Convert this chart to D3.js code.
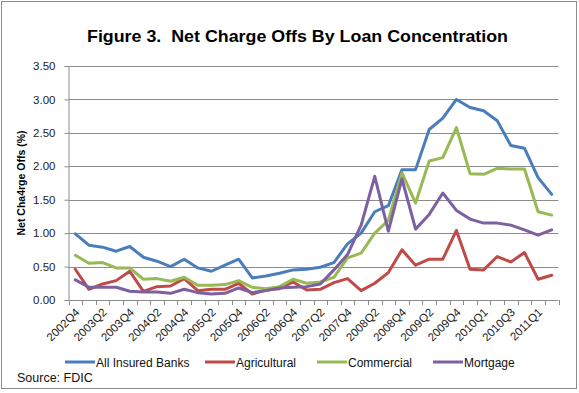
<!DOCTYPE html>
<html>
<head>
<meta charset="utf-8">
<script src="https://cdn.jsdelivr.net/npm/d3@7"></script>
<style>
  body { margin: 0; background: #fff; }
  svg { display: block; font-family: "Liberation Sans", Arial, sans-serif; }
</style>
</head>
<body>
<svg id="chart" width="579" height="393"></svg>
<script>
const quarters = ["2002Q4","2003Q1","2003Q2","2003Q3","2003Q4","2004Q1","2004Q2","2004Q3","2004Q4",
  "2005Q1","2005Q2","2005Q3","2005Q4","2006Q1","2006Q2","2006Q3","2006Q4","2007Q1","2007Q2","2007Q3",
  "2007Q4","2008Q1","2008Q2","2008Q3","2008Q4","2009Q1","2009Q2","2009Q3","2009Q4","2009Q4",
  "2010Q1","2010Q2","2010Q3","2010Q4","2011Q1","2011Q2"];
const allInsured = [0.99,0.82,0.79,0.73,0.80,0.64,0.58,0.50,0.61,0.48,0.43,0.52,0.61,0.33,0.36,0.40,0.45,0.46,
  0.49,0.56,0.84,1.00,1.32,1.41,1.95,1.95,2.55,2.72,3.00,2.88,2.83,2.68,2.31,2.27,1.83,1.58];
const agricultural = [0.46,0.16,0.24,0.29,0.43,0.13,0.20,0.21,0.32,0.14,0.16,0.16,0.25,0.09,0.15,0.17,0.27,0.15,
  0.16,0.26,0.32,0.14,0.25,0.41,0.75,0.52,0.61,0.61,1.04,0.46,0.45,0.65,0.57,0.71,0.31,0.37];
const commercial = [0.67,0.55,0.56,0.48,0.48,0.31,0.32,0.28,0.34,0.22,0.22,0.23,0.29,0.19,0.17,0.20,0.31,0.25,
  0.27,0.34,0.63,0.70,1.00,1.19,1.90,1.45,2.08,2.13,2.58,1.89,1.88,1.97,1.96,1.96,1.32,1.27];
const mortgage = [0.30,0.19,0.19,0.19,0.13,0.12,0.12,0.10,0.16,0.11,0.09,0.10,0.18,0.11,0.14,0.18,0.19,0.20,
  0.24,0.45,0.68,1.12,1.85,1.03,1.81,1.06,1.28,1.60,1.34,1.21,1.15,1.15,1.12,1.05,0.97,1.05];
const yTicks = [0, 0.5, 1.0, 1.5, 2.0, 2.5, 3.0, 3.5];
const seriesNames = ["All Insured Banks", "Agricultural", "Commercial", "Mortgage"];
const seriesColors = ["#4a7ebb", "#be4b48", "#98b954", "#7d60a0"];
const seriesValues = [allInsured, agricultural, commercial, mortgage];

const svg = d3.select("#chart");
const plotLeft = 68.5, plotRight = 558.5, plotTop = 66, plotBottom = 300;

// outer border
svg.append("rect").attr("x", 1.5).attr("y", 1.5).attr("width", 575).attr("height", 387)
  .attr("fill", "#fff").attr("stroke", "#8c8c8c").attr("stroke-width", 1);

// title
svg.append("text").attr("x", 297.5).attr("y", 41.5).attr("text-anchor", "middle")
  .style("white-space", "pre")
  .attr("font-size", 16.5).attr("font-weight", "bold").attr("fill", "#000")
  .attr("textLength", 421).attr("lengthAdjust", "spacingAndGlyphs")
  .text("Figure 3.  Net Charge Offs By Loan Concentration");

const idx = d3.range(quarters.length);
const x = d3.scaleBand().domain(idx).range([plotLeft, plotRight]).padding(0);
const y = d3.scaleLinear().domain([0, 3.5]).range([plotBottom, plotTop]);
const cx = i => x(i) + x.bandwidth() / 2;

// gridlines
svg.append("g").selectAll("line").data(yTicks.filter(d => d > 0)).join("line")
  .attr("x1", plotLeft).attr("x2", plotRight)
  .attr("y1", d => Math.round(y(d)) + 0.5).attr("y2", d => Math.round(y(d)) + 0.5)
  .attr("stroke", "#8c8c8c").attr("stroke-width", 1);

// y axis
const yAxis = svg.append("g").attr("transform", `translate(${plotLeft},0)`)
  .call(d3.axisLeft(y).tickValues(yTicks).tickFormat(d3.format(".2f")).tickSize(4).tickPadding(9));
yAxis.select(".domain").attr("stroke", "#8c8c8c");
yAxis.selectAll(".tick line").attr("stroke", "#8c8c8c");
yAxis.selectAll("text").attr("font-size", 11.5).attr("fill", "#222").attr("font-family", "Liberation Sans, Arial, sans-serif");

// y axis title
svg.append("text").attr("transform", `translate(25,${(plotTop + plotBottom) / 2}) rotate(-90)`)
  .attr("text-anchor", "middle").attr("font-size", 10.5).attr("font-weight", "bold")
  .text("Net Cha4rge Offs (%)");

// x axis line
svg.append("line").attr("x1", plotLeft).attr("x2", plotRight).attr("y1", plotBottom + 0.5).attr("y2", plotBottom + 0.5)
  .attr("stroke", "#8c8c8c");
// x ticks between categories
const boundaries = d3.range(quarters.length + 1).map(i => plotLeft + i * x.bandwidth());
svg.append("g").selectAll("line").data(boundaries).join("line")
  .attr("x1", d => Math.round(d) + 0.5).attr("x2", d => Math.round(d) + 0.5)
  .attr("y1", plotBottom).attr("y2", plotBottom + 5).attr("stroke", "#8c8c8c");
// x labels
svg.append("g").selectAll("text").data(idx.filter(i => i % 2 === 0)).join("text")
  .attr("transform", i => `translate(${cx(i) + 5},${plotBottom + 13}) rotate(-45)`)
  .attr("text-anchor", "end").attr("font-size", 11.5).attr("fill", "#222")
  .text(i => quarters[i]);

// lines
const line = d3.line().x((d, i) => cx(i)).y(d => y(d));
svg.append("g").selectAll("path").data(seriesValues).join("path")
  .attr("d", d => line(d)).attr("fill", "none")
  .attr("stroke", (d, i) => seriesColors[i]).attr("stroke-width", 3)
  .attr("stroke-linejoin", "round").attr("stroke-linecap", "round");

// legend
const legendX = [65, 205, 317, 433];
const lg = svg.append("g").selectAll("g").data(seriesNames).join("g")
  .attr("transform", (d, i) => `translate(${legendX[i]},362)`);
lg.append("line").attr("x1", 0).attr("x2", 30).attr("y1", 0).attr("y2", 0)
  .attr("stroke", (d, i) => seriesColors[i]).attr("stroke-width", 3);
lg.append("text").attr("x", 31).attr("y", 4.5).attr("font-size", 12).attr("fill", "#111").text(d => d);

// source
svg.append("text").attr("x", 17).attr("y", 382).attr("font-size", 12.5).attr("fill", "#111")
  .text("Source: FDIC");
</script>
</body>
</html>
